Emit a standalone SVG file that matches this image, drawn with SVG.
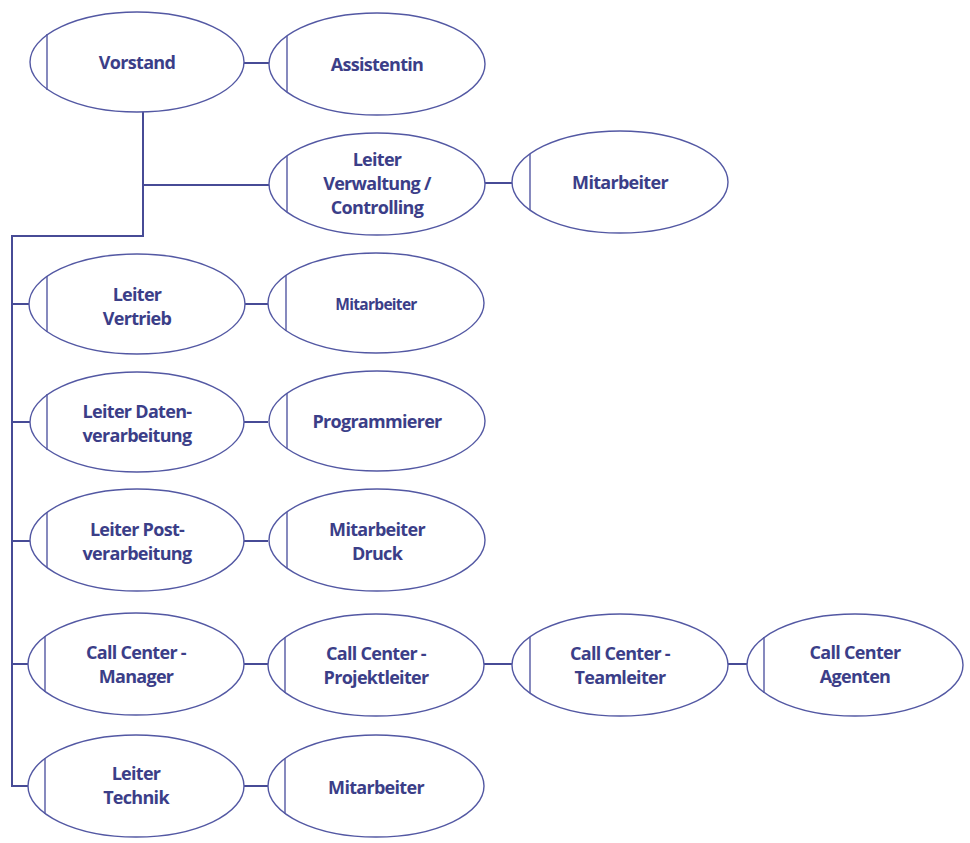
<svg xmlns="http://www.w3.org/2000/svg" width="970" height="843" viewBox="0 0 970 843">
<style>
.n ellipse{fill:#fff;stroke:#5358a3;stroke-width:1.4}
.n line{stroke:#5358a3;stroke-width:1.4}
.n text{font-family:"Open Sans","Liberation Sans",sans-serif;font-weight:700;font-size:18px;fill:#3b3e88;text-anchor:middle;letter-spacing:-0.7px}
.n text.s{font-size:15.5px}
#connectors path{fill:none;stroke:#474b96;stroke-width:2}
</style>
<rect width="970" height="843" fill="#fff"/>
<g id="connectors">
<path d="M244 63H270"/>
<path d="M143 111V236H12V786H30"/>
<path d="M143 185H270"/>
<path d="M12 304H30M12 422H30M12 541H30M12 664H30"/>
<path d="M485 183H513"/>
<path d="M244 304H268M244 422H268M244 541H268M244 664H268M244 786H268"/>
<path d="M484 664H513M728 664H748"/>
</g>
<g id="vorstand" class="n"><ellipse cx="137" cy="62" rx="107" ry="50"/><line x1="47" y1="34" x2="47" y2="90"/><text x="137" y="69">Vorstand</text></g>
<g id="assistentin" class="n"><ellipse cx="377" cy="64" rx="108" ry="51"/><line x1="287" y1="36" x2="287" y2="92"/><text x="377" y="71">Assistentin</text></g>
<g id="leiter-verwaltung" class="n"><ellipse cx="377" cy="184" rx="108" ry="51"/><line x1="287" y1="156" x2="287" y2="212"/><text x="377" y="166">Leiter</text><text x="377" y="190">Verwaltung /</text><text x="377" y="214">Controlling</text></g>
<g id="mitarbeiter-verwaltung" class="n"><ellipse cx="620" cy="182" rx="108" ry="51"/><line x1="530" y1="154" x2="530" y2="210"/><text x="620" y="189">Mitarbeiter</text></g>
<g id="leiter-vertrieb" class="n"><ellipse cx="137" cy="304" rx="108" ry="50"/><line x1="47" y1="276" x2="47" y2="332"/><text x="137" y="301">Leiter</text><text x="137" y="325">Vertrieb</text></g>
<g id="mitarbeiter-vertrieb" class="n"><ellipse cx="376" cy="303" rx="108" ry="50"/><line x1="286" y1="275" x2="286" y2="331"/><text class="s" x="376" y="310">Mitarbeiter</text></g>
<g id="leiter-datenverarbeitung" class="n"><ellipse cx="137" cy="422" rx="107" ry="50"/><line x1="47" y1="394" x2="47" y2="450"/><text x="137" y="418">Leiter Daten-</text><text x="137" y="442">verarbeitung</text></g>
<g id="programmierer" class="n"><ellipse cx="377" cy="421" rx="108" ry="50"/><line x1="287" y1="393" x2="287" y2="449"/><text x="377" y="428">Programmierer</text></g>
<g id="leiter-postverarbeitung" class="n"><ellipse cx="137" cy="540" rx="107" ry="51"/><line x1="47" y1="512" x2="47" y2="568"/><text x="137" y="536">Leiter Post-</text><text x="137" y="560">verarbeitung</text></g>
<g id="mitarbeiter-druck" class="n"><ellipse cx="377" cy="540" rx="108" ry="51"/><line x1="287" y1="512" x2="287" y2="568"/><text x="377" y="536">Mitarbeiter</text><text x="377" y="560">Druck</text></g>
<g id="cc-manager" class="n"><ellipse cx="136" cy="664" rx="108" ry="51"/><line x1="45" y1="636" x2="45" y2="692"/><text x="136" y="659">Call Center -</text><text x="136" y="683">Manager</text></g>
<g id="cc-projektleiter" class="n"><ellipse cx="376" cy="665" rx="108" ry="51"/><line x1="285" y1="637" x2="285" y2="693"/><text x="376" y="660">Call Center -</text><text x="376" y="684">Projektleiter</text></g>
<g id="cc-teamleiter" class="n"><ellipse cx="620" cy="665" rx="108" ry="51"/><line x1="530" y1="637" x2="530" y2="693"/><text x="620" y="660">Call Center -</text><text x="620" y="684">Teamleiter</text></g>
<g id="cc-agenten" class="n"><ellipse cx="855" cy="665" rx="108" ry="51"/><line x1="764" y1="637" x2="764" y2="693"/><text x="855" y="659">Call Center</text><text x="855" y="683">Agenten</text></g>
<g id="leiter-technik" class="n"><ellipse cx="136" cy="786" rx="108" ry="51"/><line x1="45" y1="758" x2="45" y2="814"/><text x="136" y="780">Leiter</text><text x="136" y="804">Technik</text></g>
<g id="mitarbeiter-technik" class="n"><ellipse cx="376" cy="786" rx="108" ry="51"/><line x1="285" y1="758" x2="285" y2="814"/><text x="376" y="794">Mitarbeiter</text></g>
</svg>
